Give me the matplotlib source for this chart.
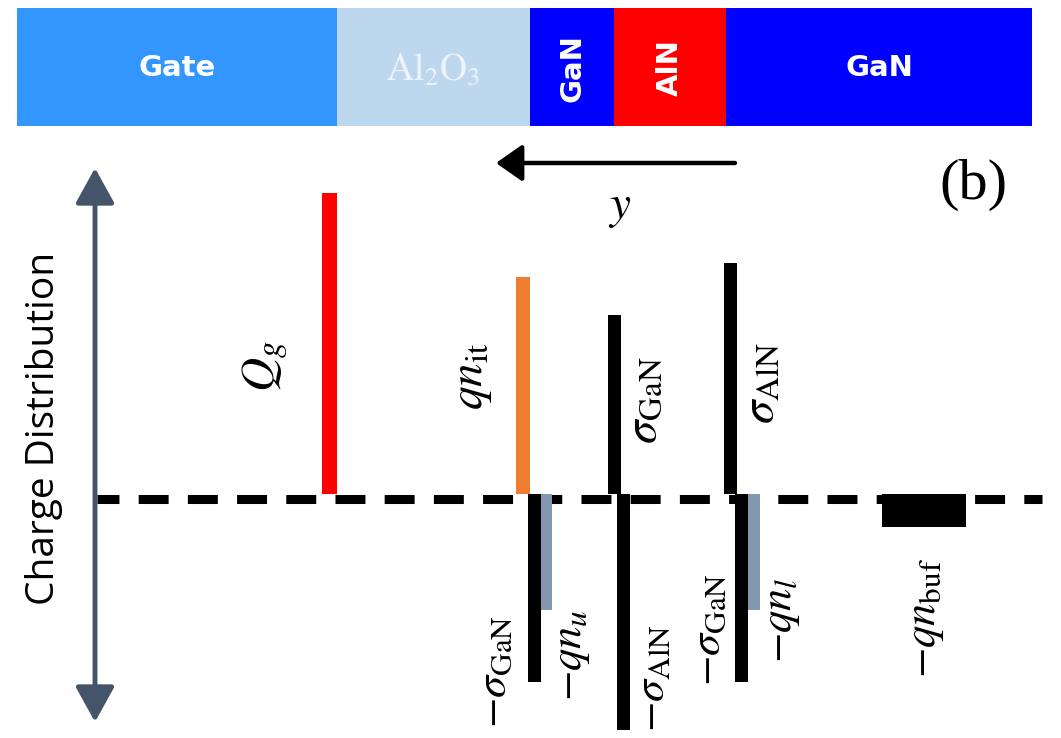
import matplotlib
matplotlib.use("Agg")
import matplotlib.pyplot as plt
from matplotlib.patches import Rectangle, FancyArrowPatch

plt.rcParams['mathtext.fontset'] = 'stix'

# layer stack (widths along the drawing, px)
layer_names = ["Gate", r"$\mathrm{Al_2O_3}$", "GaN", "AlN", "GaN"]
layer_widths = [320, 193, 84, 112, 306]
layer_colors = ["#3396FF", "#BDD7EE", "#0000FF", "#FF0000", "#0000FF"]
layer_text_rot = [0, 0, 90, 90, 0]

# sheet charges (positive = above the zero line)
charge_labels = [r"$Q_g$", r"$qn_{\mathrm{it}}$", r"$\sigma_{\mathrm{GaN}}$", r"$\sigma_{\mathrm{AlN}}$",
                 r"$-\sigma_{\mathrm{GaN}}$", r"$-qn_u$", r"$-\sigma_{\mathrm{AlN}}$",
                 r"$-\sigma_{\mathrm{GaN}}$", r"$-qn_l$", r"$-qn_{\mathrm{buf}}$"]
charge_values = [301, 217, 179, 231, -188, -116, -236, -188, -116, -33]
charge_colors = ["#FF0000", "#ED7D31", "black", "black",
                 "black", "#8497B0", "black", "black", "#8497B0", "black"]

# where things go on the canvas
charge_x = [322, 516, 608, 724, 528, 541, 617, 735, 748, 882]
charge_w = [15, 14, 13, 13, 13, 11, 13, 13, 12, 84]
label_xy = [(265, 366), (472, 376), (643, 400), (760, 383),
            (493, 672), (570, 655), (652, 678), (708, 630), (780, 620), (925, 618)]

W, H = 1061, 738
base = H - 494

fig = plt.figure(figsize=(W / 100, H / 100), dpi=100)
ax = fig.add_axes([0, 0, 1, 1])
ax.set_xlim(0, W)
ax.set_ylim(0, H)
ax.axis('off')

# layer stack on top
x0 = 17
for name, w, c, rot in zip(layer_names, layer_widths, layer_colors, layer_text_rot):
    ax.add_patch(Rectangle((x0, H - 126), w, 118, facecolor=c, edgecolor='none'))
    if name.startswith("$"):
        ax.text(x0 + w / 2, H - 70, name, color="#EEF4FB", fontsize=27,
                ha='center', va='center')
    else:
        ax.text(x0 + w / 2, H - 68, name, color='white', fontsize=21, fontweight='bold',
                ha='center', va='center', rotation=rot)
    x0 += w

# zero line
ax.plot([97, 1042], [H - 498.5, H - 498.5], color='black', lw=6.5,
        linestyle=(0.89, (3.32, 2.13)), dash_capstyle='butt', zorder=1)

# charge bars
ax.bar(charge_x, charge_values, width=charge_w, bottom=base, align='edge',
       color=charge_colors, zorder=2)

for lab, val, (lx, ly) in zip(charge_labels, charge_values, label_xy):
    fs = 34 if val > 0 else 32
    ax.text(lx, H - ly, lab, fontsize=fs, rotation=90, ha='center', va='center')

# vertical double arrow
ax.add_patch(FancyArrowPatch((95, H - 722), (95, H - 168), arrowstyle='<|-|>,head_length=1.45,head_width=0.8',
                             mutation_scale=15, color="#44546A", lw=3.5, shrinkA=0, shrinkB=0))
ax.text(44, H - 428, "Charge Distribution", fontsize=28, rotation=90,
        ha='center', va='center', family='Open Sans')

# y direction arrow
ax.add_patch(FancyArrowPatch((735, H - 163), (496, H - 163), arrowstyle='-|>,head_length=1.07,head_width=0.75',
                             mutation_scale=15, color='black', lw=3.2, shrinkA=0, shrinkB=0))
ax.text(620, H - 208, r"$y$", fontsize=34, ha='center', va='center')
ax.text(973, H - 185, "(b)", fontsize=42, ha='center', va='center', family='Liberation Serif')

fig.savefig("out.png", dpi=100)
